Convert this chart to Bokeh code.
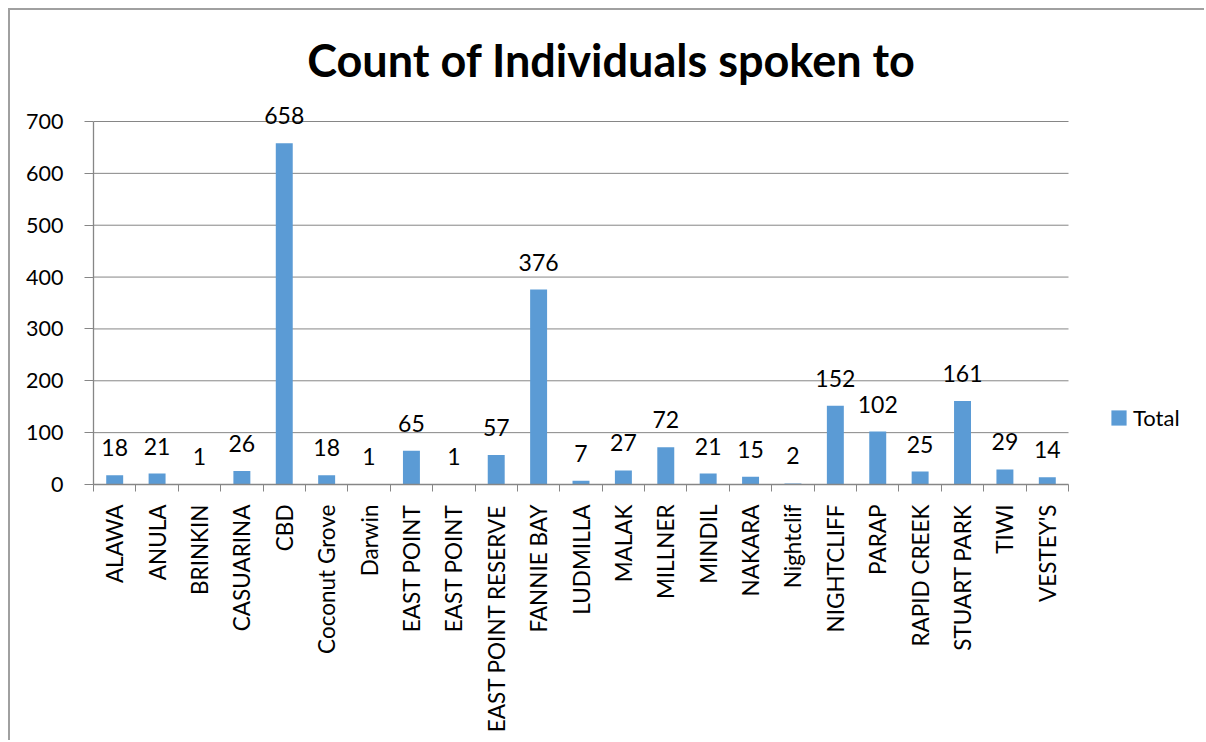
import math
from bokeh.plotting import figure
from bokeh.models import (ColumnDataSource, Range1d, FixedTicker, LabelSet, Label,
                          Legend, LegendItem)
from bokeh.core.properties import value
from bokeh.embed import file_html
from bokeh.resources import INLINE

# ---- data ----
categories = ["ALAWA", "ANULA", "BRINKIN", "CASUARINA", "CBD", "Coconut Grove", "Darwin",
              "EAST POINT", "EAST POINT", "EAST POINT RESERVE", "FANNIE BAY", "LUDMILLA",
              "MALAK", "MILLNER", "MINDIL", "NAKARA", "Nightclif", "NIGHTCLIFF", "PARAP",
              "RAPID CREEK", "STUART PARK", "TIWI", "VESTEY'S"]
totals = [18, 21, 1, 26, 658, 18, 1, 65, 1, 57, 376, 7, 27, 72, 21, 15, 2, 152, 102, 25,
          161, 29, 14]
y_ticks = [0, 100, 200, 300, 400, 500, 600, 700]
series_name = "Total"
title_text = "Count of Individuals spoken to"

FONT = "Lato"
GREY = "#868686"
BAR = "#5B9BD5"

n = len(categories)
xs = [i + 0.5 for i in range(n)]
bounds = [float(i) for i in range(n + 1)]
y_axis_max = y_ticks[-1]
# the frame extends above / right of the axes so title, labels and legend are not clipped
y_view_max = y_axis_max * 474.0 / 363.0
x_view_max = n * 1113.0 / 975.0

src = ColumnDataSource(dict(x=xs, val=totals, cat=categories,
                            label=[str(v) for v in totals]))
grid_src = ColumnDataSource(dict(y=y_ticks, x0=[0] * len(y_ticks), x1=[n] * len(y_ticks)))

p = figure(width=1196, height=732, output_backend="svg", toolbar_location=None,
           x_range=Range1d(0, x_view_max), y_range=Range1d(0, y_view_max),
           min_border_left=83, min_border_right=0, min_border_top=0,
           min_border_bottom=258)
p.styles = {"margin-left": "8px", "margin-top": "8px",
            "border-left": "2px solid #a0a0a0", "border-top": "2px solid #a0a0a0"}
p.outline_line_color = None
p.background_fill_color = "white"
p.border_fill_color = "white"
p.xgrid.grid_line_color = None
p.ygrid.grid_line_color = None

# horizontal gridlines across the plot area only
p.segment(x0="x0", x1="x1", y0="y", y1="y", source=grid_src, line_color=GREY, line_width=1)

bars = p.vbar(x="x", top="val", width=0.40, source=src, fill_color=BAR, line_color=None)

# x axis
xa = p.xaxis[0]
xa.bounds = (0, n)
xa.ticker = FixedTicker(ticks=xs, minor_ticks=bounds)
xa.major_label_overrides = {x: c for x, c in zip(xs, categories)}
xa.major_label_orientation = math.pi / 2
xa.major_tick_line_color = None
xa.major_tick_out = 0
xa.major_tick_in = 0
xa.minor_tick_line_color = GREY
xa.minor_tick_out = 7
xa.minor_tick_in = 0
xa.axis_line_color = GREY
xa.axis_line_width = 1.3
xa.major_label_standoff = 13
xa.major_label_text_font = FONT
xa.major_label_text_font_size = "22.5px"
xa.major_label_text_color = "black"

# y axis
ya = p.yaxis[0]
ya.ticker = FixedTicker(ticks=y_ticks)
ya.bounds = (0, y_axis_max)
ya.axis_line_color = GREY
ya.axis_line_width = 1.3
ya.major_tick_line_color = GREY
ya.major_tick_out = 9
ya.major_tick_in = 0
ya.minor_tick_line_color = None
ya.major_label_standoff = 21
ya.major_label_text_font = FONT
ya.major_label_text_font_size = "21.5px"
ya.major_label_text_color = "black"

labels = LabelSet(x="x", y="val", text="label", source=src, y_offset=19,
                  text_align="center", text_baseline="alphabetic",
                  text_font=value(FONT), text_font_size=value("23px"), text_color="black")
p.add_layout(labels)

title = Label(x=518, y=425, x_units="screen", y_units="screen", text=title_text,
              text_align="center", text_baseline="alphabetic", text_font=FONT,
              text_font_style="bold", text_font_size="45px", text_color="black")
p.add_layout(title)

legend = Legend(items=[LegendItem(label=series_name, renderers=[bars])],
                location=(1016, 53), glyph_width=19, glyph_height=19,
                label_standoff=5, padding=0, margin=0, spacing=0,
                border_line_color=None, background_fill_alpha=0,
                label_text_font=FONT, label_text_font_size="22px",
                label_text_color="black")
p.add_layout(legend)

open("out.html", "w").write(file_html(p, INLINE))
